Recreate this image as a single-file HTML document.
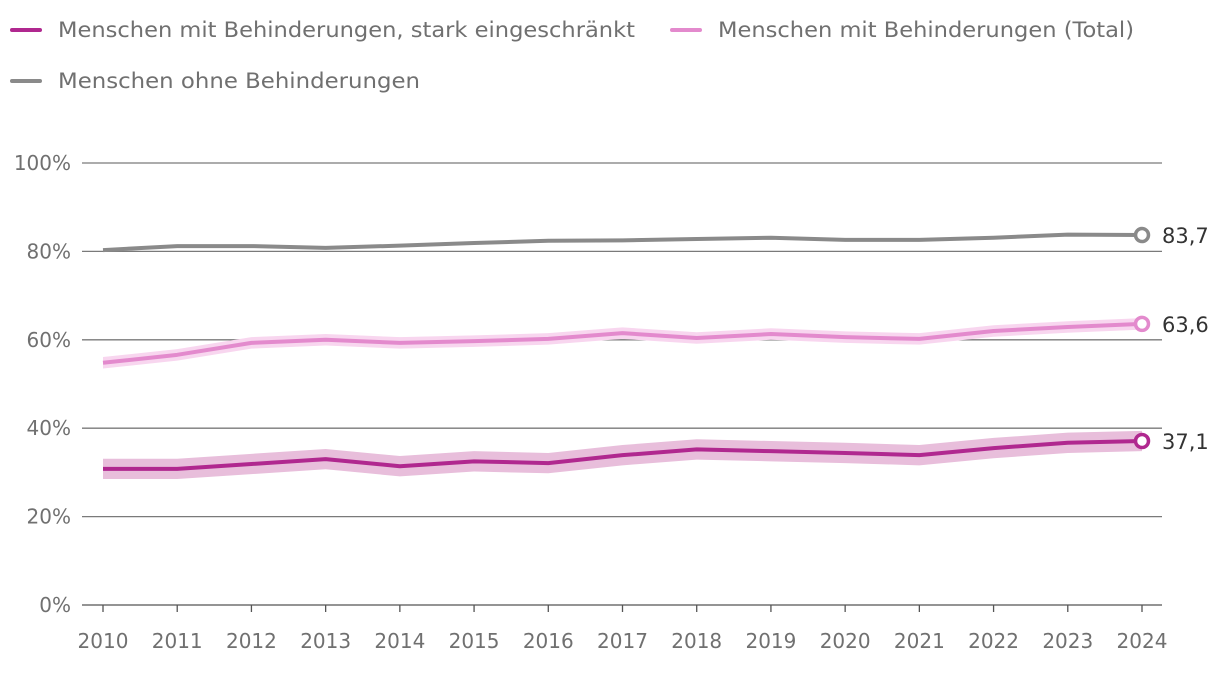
<!DOCTYPE html>
<html><head><meta charset="utf-8"><style>
body{margin:0;background:#fff;font-family:"DejaVu Sans","Liberation Sans",sans-serif}
svg text{font-family:"DejaVu Sans","Liberation Sans",sans-serif}
</style></head><body>
<svg id="c" width="1220" height="674" xmlns="http://www.w3.org/2000/svg">
<g>
<g><line x1="12" y1="30" x2="40" y2="30" stroke="#b0288f" stroke-width="4" stroke-linecap="round"/><text x="58" y="37" font-size="21" fill="#707070" textLength="577" lengthAdjust="spacingAndGlyphs">Menschen mit Behinderungen, stark eingeschränkt</text></g>
<g><line x1="672" y1="30" x2="700" y2="30" stroke="#e38acd" stroke-width="4" stroke-linecap="round"/><text x="718" y="37" font-size="21" fill="#707070" textLength="416" lengthAdjust="spacingAndGlyphs">Menschen mit Behinderungen (Total)</text></g>
<g><line x1="12" y1="81" x2="40" y2="81" stroke="#8a8a8a" stroke-width="4" stroke-linecap="round"/><text x="58" y="88" font-size="21" fill="#707070" textLength="362" lengthAdjust="spacingAndGlyphs">Menschen ohne Behinderungen</text></g>
</g>
<g id="grid"></g><g id="bands"></g><g id="lines"></g><g id="axes"></g>
</svg>
<script>
const years=[2010,2011,2012,2013,2014,2015,2016,2017,2018,2019,2020,2021,2022,2023,2024];
const ohne=[80.3,81.2,81.2,80.8,81.3,81.9,82.4,82.5,82.8,83.1,82.6,82.6,83.1,83.8,83.7];
const total=[54.8,56.6,59.3,60.0,59.3,59.7,60.2,61.5,60.4,61.3,60.6,60.2,62.0,62.9,63.6];
const stark=[30.8,30.8,31.9,33.0,31.4,32.5,32.1,33.9,35.2,34.8,34.4,33.9,35.5,36.7,37.1];
const totalCI=[1.3,1.3,1.3,1.3,1.3,1.3,1.3,1.3,1.3,1.3,1.3,1.3,1.3,1.3,1.3];
const starkCI=[2.3,2.3,2.3,2.3,2.3,2.3,2.3,2.3,2.3,2.3,2.3,2.3,2.3,2.3,2.3];
const yTicks=[0,20,40,60,80,100];
const labels=["83,7","63,6","37,1"];
const NS="http://www.w3.org/2000/svg";
const x=i=>103+(1142-103)*(years[i]-years[0])/(years[years.length-1]-years[0]);
const y=v=>605-v*4.42;
function mk(t,a,p){const e=document.createElementNS(NS,t);for(const k in a)e.setAttribute(k,a[k]);p.appendChild(e);return e;}
const grid=document.getElementById('grid'),bands=document.getElementById('bands'),lines=document.getElementById('lines'),axes=document.getElementById('axes');
yTicks.forEach(t=>{
 if(t>0){const l=mk('line',{x1:82,x2:1162,y1:y(t),y2:y(t),stroke:'#7a7a7a','stroke-width':1.3},grid);
 
 }
 const tx=mk('text',{x:71,y:y(t)+7,'text-anchor':'end','font-size':20,fill:'#707070'},axes);tx.textContent=t+'%';
 
 
});
const ax=mk('line',{x1:82,x2:1162,y1:605,y2:605,stroke:'#555','stroke-width':1.3},axes);


years.forEach((yr,i)=>{
 const tk=mk('line',{x1:x(i),x2:x(i),y1:605,y2:612,stroke:'#555','stroke-width':1.3},axes);
 
 
 const t=mk('text',{x:x(i),y:648,'text-anchor':'middle','font-size':20,fill:'#707070'},axes);t.textContent=yr;
 
 
});
function band(vals,ci,col,name){
 let d='M'+vals.map((v,i)=>x(i)+','+y(v+ci[i])).join('L');
 for(let i=vals.length-1;i>=0;i--)d+='L'+x(i)+','+y(vals[i]-ci[i]);
 const p=mk('path',{d:d+'Z',fill:col},bands);
 
 
}
band(total,totalCI,'#f8d6ef','band-total');
band(stark,starkCI,'#e8bedb','band-stark');
function line(vals,col,name,lab){
 const p=mk('path',{d:'M'+vals.map((v,i)=>x(i)+','+y(v)).join('L'),fill:'none',stroke:col,'stroke-width':4,'stroke-linejoin':'round'},lines);
 
 
 const n=vals.length-1;
 const c=mk('circle',{cx:x(n),cy:y(vals[n]),r:6.5,fill:'#fff',stroke:col,'stroke-width':3.5},lines);
 
 
 const t=mk('text',{x:x(n)+20,y:y(vals[n])+8,'font-size':21,fill:'#333'},lines);t.textContent=lab;
 
 
}
line(ohne,'#8a8a8a','line-ohne',labels[0]);
line(total,'#e38acd','line-total',labels[1]);
line(stark,'#b0288f','line-stark',labels[2]);
</script>
</body></html>
